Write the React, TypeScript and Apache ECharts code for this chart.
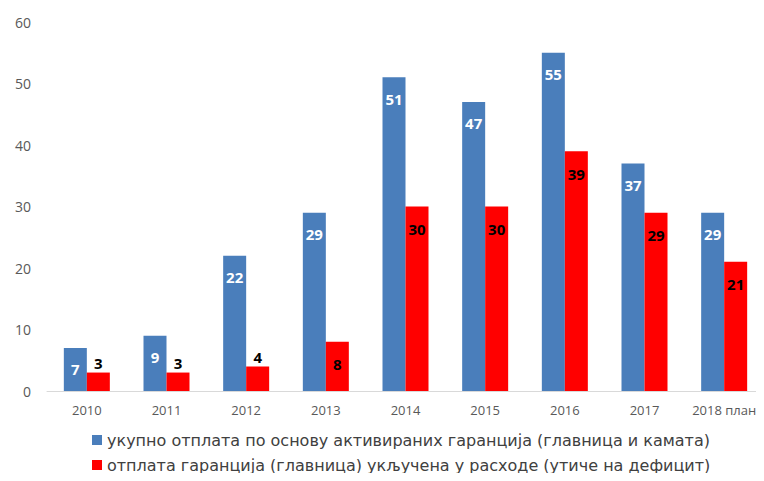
import React, { useEffect, useRef } from "react";
import * as echarts from "echarts";

const years = ["2010", "2011", "2012", "2013", "2014", "2015", "2016", "2017", "2018 план"];
const totalRepayment = [7, 9, 22, 29, 51, 47, 55, 37, 29];
const includedInExpenses = [3, 3, 4, 8, 30, 30, 39, 29, 21];
const yTicks = { min: 0, max: 60, interval: 10 };

const seriesNames = [
  "укупно отплата по основу активираних гаранција (главница и камата)",
  "отплата гаранција (главница) укључена у расходе (утиче на дефицит)",
];

const FONT = "'Open Sans', 'Noto Sans', sans-serif";
const LEGEND_FONT = "'DejaVu Sans', 'Open Sans', sans-serif";

export default function App() {
  const ref = useRef<HTMLDivElement>(null);

  useEffect(() => {
    if (!ref.current) return;
    const chart = echarts.init(ref.current, null, { renderer: "svg" });

    // Short red bars carry their label above the bar; taller ones inside the top.
    const redData = includedInExpenses.map((v) => ({
      value: v,
      label:
        v < 6
          ? { position: "top" as const, distance: 2 }
          : { position: "insideTop" as const, distance: 15 },
    }));

    const legendBase = {
      orient: "horizontal" as const,
      left: 92,
      padding: 0,
      itemWidth: 10,
      itemHeight: 10,
      icon: "rect",
      textStyle: { fontSize: 16, color: "#404040", fontFamily: LEGEND_FONT },
    };

    chart.setOption({
      animation: false,
      textStyle: { fontFamily: FONT },
      grid: { left: 47, right: 0, top: 22, bottom: 90 },
      legend: [
        { ...legendBase, top: 432, data: [seriesNames[0]] },
        { ...legendBase, top: 457, data: [seriesNames[1]] },
      ],
      xAxis: {
        type: "category",
        data: years,
        axisLine: { lineStyle: { color: "#d9d9d9" } },
        axisTick: { show: false },
        axisLabel: { color: "#595959", fontSize: 13, margin: 12, interval: 0, fontFamily: FONT },
      },
      yAxis: {
        type: "value",
        min: yTicks.min,
        max: yTicks.max,
        interval: yTicks.interval,
        axisLine: { show: false },
        axisTick: { show: false },
        splitLine: { show: false },
        axisLabel: { color: "#595959", fontSize: 14, margin: 16, fontFamily: FONT },
      },
      series: [
        {
          name: seriesNames[0],
          type: "bar",
          data: totalRepayment,
          barWidth: 23,
          barGap: "0%",
          itemStyle: { color: "#4a7ebb" },
          label: {
            show: true,
            position: "insideTop",
            distance: 14,
            color: "#ffffff",
            fontWeight: "bold",
            fontSize: 15,
            fontFamily: FONT,
          },
        },
        {
          name: seriesNames[1],
          type: "bar",
          data: redData,
          barWidth: 23,
          itemStyle: { color: "#ff0000" },
          label: {
            show: true,
            color: "#000000",
            fontWeight: "bold",
            fontSize: 15,
            fontFamily: FONT,
          },
        },
      ],
    });

    return () => chart.dispose();
  }, []);

  return <div ref={ref} style={{ width: 764, height: 481, margin: -8 }} />;
}
